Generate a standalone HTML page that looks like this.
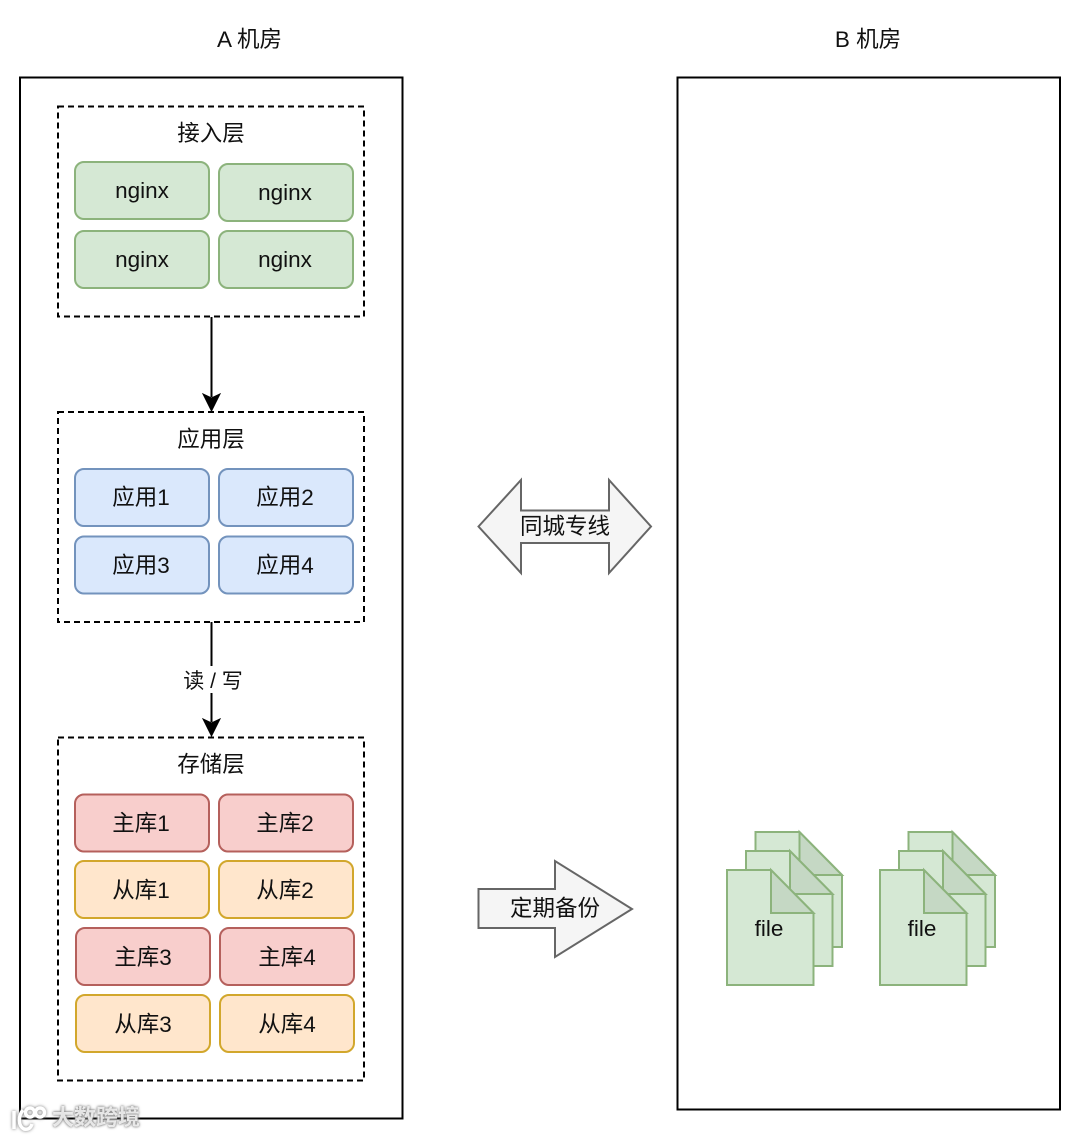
<!DOCTYPE html>
<html>
<head>
<meta charset="utf-8">
<style>
html,body{margin:0;padding:0;background:#fff;width:1080px;height:1139px;overflow:hidden}
svg{display:block;position:absolute;left:0;top:0;filter:blur(.35px)}
text{font-family:"Liberation Sans","Noto Sans CJK SC",sans-serif;font-size:22.5px;fill:#111;text-anchor:middle}
.wm{position:absolute;left:52px;top:1103px;font:22px "Liberation Sans","Noto Sans CJK SC",sans-serif;font-weight:700;color:rgba(255,255,255,.8);text-shadow:0 0 2px #777,0 0 3px #999;letter-spacing:0;line-height:30px}
.logo{filter:drop-shadow(0 0 1.5px #777)}
</style>
</head>
<body>
<svg width="1080" height="1139" viewBox="0 0 1080 1139" xmlns="http://www.w3.org/2000/svg">
<defs>
<g id="doc">
  <path d="M0 0H44L86.500 43V115H0Z" fill="#d5e8d4" stroke="#8cb37c" stroke-width="2"/>
  <path d="M44 0V43H86.500Z" fill="#c5d8c4" stroke="#8cb37c" stroke-width="2"/>
</g>
</defs>

<text x="249.500" y="47">A 机房</text>
<text x="868" y="47">B 机房</text>

<rect x="20" y="77.500" width="382.500" height="1041" fill="#fff" stroke="#000" stroke-width="2"/>
<rect x="677.500" y="77.500" width="382.500" height="1032" fill="#fff" stroke="#000" stroke-width="2"/>

<g fill="none" stroke="#000" stroke-width="2" stroke-dasharray="6 4">
<rect x="58" y="106.500" width="306" height="210"/>
<rect x="58" y="412" width="306" height="210"/>
<rect x="58" y="737.500" width="306" height="343"/>
</g>

<text x="211" y="141">接入层</text>
<text x="211" y="447">应用层</text>
<text x="211" y="772">存储层</text>

<g stroke-width="2">
<g fill="#d5e8d4" stroke="#8cb37c">
<rect x="75" y="162" width="134" height="57" rx="9"/>
<rect x="219" y="164" width="134" height="57" rx="9"/>
<rect x="75" y="231" width="134" height="57" rx="9"/>
<rect x="219" y="231" width="134" height="57" rx="9"/>
</g>
<g fill="#dae8fc" stroke="#7393bd">
<rect x="75" y="469" width="134" height="57" rx="9"/>
<rect x="219" y="469" width="134" height="57" rx="9"/>
<rect x="75" y="536.500" width="134" height="57" rx="9"/>
<rect x="219" y="536.500" width="134" height="57" rx="9"/>
</g>
<g fill="#f8cecc" stroke="#b5605c">
<rect x="75" y="794.500" width="134" height="57" rx="9"/>
<rect x="219" y="794.500" width="134" height="57" rx="9"/>
<rect x="76" y="928" width="134" height="57" rx="9"/>
<rect x="220" y="928" width="134" height="57" rx="9"/>
</g>
<g fill="#ffe6cc" stroke="#d2a72c">
<rect x="75" y="861" width="134" height="57" rx="9"/>
<rect x="219" y="861" width="134" height="57" rx="9"/>
<rect x="76" y="995" width="134" height="57" rx="9"/>
<rect x="220" y="995" width="134" height="57" rx="9"/>
</g>
</g>

<text x="142" y="198">nginx</text>
<text x="285" y="200">nginx</text>
<text x="142" y="267">nginx</text>
<text x="285" y="267">nginx</text>

<text x="141" y="505">应用1</text>
<text x="285" y="505">应用2</text>
<text x="141" y="573">应用3</text>
<text x="285" y="573">应用4</text>

<text x="141" y="831">主库1</text>
<text x="285" y="831">主库2</text>
<text x="141" y="898">从库1</text>
<text x="285" y="898">从库2</text>
<text x="143" y="965">主库3</text>
<text x="287" y="965">主库4</text>
<text x="143" y="1032">从库3</text>
<text x="287" y="1032">从库4</text>

<path d="M211.500 317V397" stroke="#000" stroke-width="2" fill="none"/>
<path d="M203 394L211.500 398L220 394L211.500 411Z" fill="#000" stroke="#000"/>
<path d="M211.500 622V722" stroke="#000" stroke-width="2" fill="none"/>
<path d="M203 719L211.500 723L220 719L211.500 736Z" fill="#000" stroke="#000"/>
<rect x="180" y="666" width="64" height="27" fill="#fff"/>
<text x="213" y="688" style="font-size:21px">读 / 写</text>

<path d="M478.500 526.500L521 480V510.500H609V480L651 526.500L609 573V543H521V573Z" fill="#f5f5f5" stroke="#666" stroke-width="2"/>
<text x="565" y="534">同城专线</text>
<path d="M478.500 889H555V861L632 909L555 957V928H478.500Z" fill="#f5f5f5" stroke="#666" stroke-width="2"/>
<text x="555" y="916">定期备份</text>

<use href="#doc" x="755.500" y="832"/>
<use href="#doc" x="746" y="851"/>
<use href="#doc" x="727" y="870"/>
<use href="#doc" x="908.500" y="832"/>
<use href="#doc" x="899" y="851"/>
<use href="#doc" x="880" y="870"/>
<text x="769" y="936">file</text>
<text x="922" y="936">file</text>

<g class="logo" fill="none" stroke="#fff" stroke-width="3.500">
<path d="M14 1111V1129"/>
<path d="M23 1110C18 1116 18 1126 24 1129C28 1130 31 1128 32 1124"/>
<circle cx="30" cy="1112.500" r="4.500"/>
<circle cx="40" cy="1112.500" r="4.500"/>
</g>
</svg>
<div class="wm">大数跨境</div>
</body>
</html>
